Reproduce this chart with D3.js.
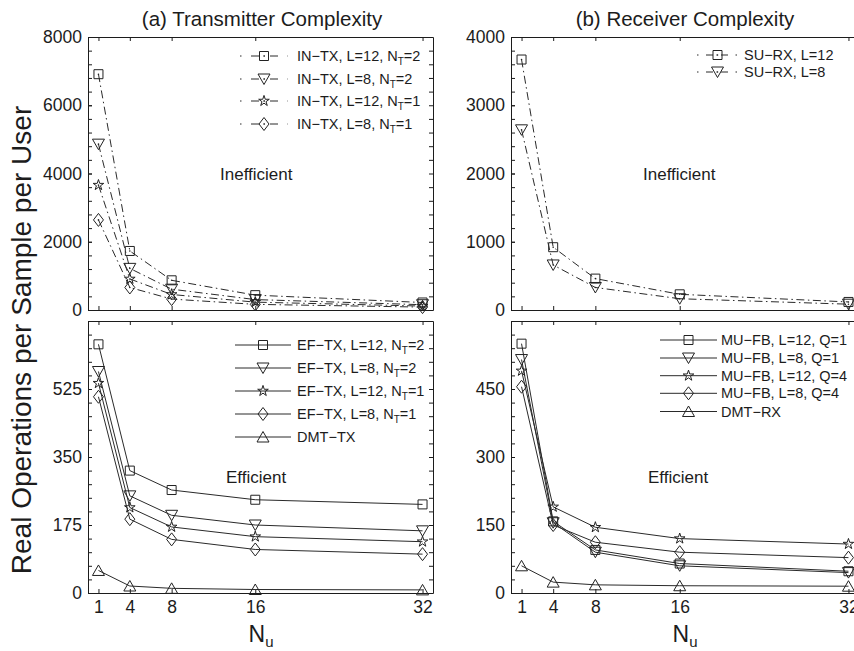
<!DOCTYPE html>
<html>
<head>
<meta charset="utf-8">
<script src="https://cdn.jsdelivr.net/npm/d3@7"></script>
<style>
  body { margin: 0; background: #fff; }
  svg { display: block; font-family: "Liberation Sans", Arial, Helvetica, sans-serif; }
</style>
</head>
<body>
<svg id="chart" width="854" height="651"></svg>
<script>
// x values shared by every panel
const nu = [1, 4, 8, 16, 32];

// (a) top: inefficient transmitters
const inTxNames = ["IN−TX, L=12, N_T=2", "IN−TX, L=8, N_T=2", "IN−TX, L=12, N_T=1", "IN−TX, L=8, N_T=1"];
const inTxL12N2 = [6910, 1730, 870, 435, 220];
const inTxL8N2 = [4860, 1220, 610, 305, 155];
const inTxL12N1 = [3660, 910, 455, 230, 115];
const inTxL8N1 = [2640, 660, 320, 165, 85];

// (b) top: single-user receivers
const suRxNames = ["SU−RX, L=12", "SU−RX, L=8"];
const suRxL12 = [3670, 920, 460, 230, 118];
const suRxL8 = [2640, 660, 330, 165, 85];

// (a) bottom: efficient transmitters
const efTxNames = ["EF−TX, L=12, N_T=2", "EF−TX, L=8, N_T=2", "EF−TX, L=12, N_T=1", "EF−TX, L=8, N_T=1", "DMT−TX"];
const efTxL12N2 = [640, 315, 265, 240, 228];
const efTxL8N2 = [570, 250, 200, 175, 160];
const efTxL12N1 = [540, 220, 170, 145, 132];
const efTxL8N1 = [505, 190, 138, 112, 100];
const dmtTx = [58, 18, 12, 9, 8];

// (b) bottom: multi-user feedback receivers
const muFbNames = ["MU−FB, L=12, Q=1", "MU−FB, L=8, Q=1", "MU−FB, L=12, Q=4", "MU−FB, L=8, Q=4", "DMT−RX"];
const muFbL12Q1 = [550, 158, 95, 65, 48];
const muFbL8Q1 = [515, 155, 90, 60, 45];
const muFbL12Q4 = [490, 190, 145, 120, 108];
const muFbL8Q4 = [455, 150, 112, 90, 78];
const dmtRx = [60, 24, 18, 16, 15];

const markers = ["square", "tridown", "star", "diamond", "triup"];

const svg = d3.select("#chart");
const ink = "#1c1c1c";

function markerPath(type) {
  switch (type) {
    case "square": return "M-4.5,-4.5H4.5V4.5H-4.5Z";
    case "tridown": return "M-6,-5L6,-5L0,5.5Z";
    case "triup": return "M-6,5L6,5L0,-5.5Z";
    case "diamond": return "M0,-6.5L5,0L0,6.5L-5,0Z";
    case "star": return d3.symbol(d3.symbolStar, 35)();
  }
}

// text with "_X" parts turned into subscripts
function richText(sel, str, subSize) {
  const parts = str.split(/_(\w)/);
  parts.forEach((p, i) => {
    if (!p) return;
    if (i % 2 === 1) {
      sel.append("tspan").attr("dy", 4).attr("font-size", subSize).text(p);
    } else {
      sel.append("tspan").attr("dy", i > 0 ? -4 : 0).text(p);
    }
  });
}

function drawPanel(p) {
  const g = svg.append("g");
  const x = d3.scaleLinear().domain([0, 33]).range(p.xRange);
  const y = d3.scaleLinear().domain(p.yDomain).range(p.yRange);
  const minor = d3.range(0, p.yDomain[1] + 1e-6, p.minorStep);

  const axes = g.append("g");
  axes.append("g").attr("transform", `translate(${p.xRange[0]},0)`)
    .call(d3.axisLeft(y).tickValues(minor).tickSize(-4).tickSizeOuter(0).tickFormat(""));
  axes.append("g").attr("transform", `translate(${p.xRange[0]},0)`)
    .call(d3.axisLeft(y).tickValues(p.yTicks).tickSize(-4).tickSizeOuter(0).tickPadding(6)
      .tickFormat(d3.format("d")))
    .selectAll("text").attr("font-size", "17.5px");
  axes.append("g").attr("transform", `translate(${p.xRange[1]},0)`)
    .call(d3.axisRight(y).tickValues(minor).tickSize(-4).tickSizeOuter(0).tickFormat(""));
  axes.append("g").attr("transform", `translate(0,${p.yRange[1]})`)
    .call(d3.axisTop(x).tickValues(nu).tickSize(-4).tickSizeOuter(0).tickFormat(""));
  axes.append("g").attr("transform", `translate(0,${p.yRange[0]})`)
    .call(d3.axisBottom(x).tickValues(nu).tickSize(-4).tickSizeOuter(0).tickPadding(8)
      .tickFormat(p.xLabels ? d3.format("d") : ""))
    .selectAll("text").attr("font-size", "17.5px");
  axes.selectAll(".domain, line").attr("stroke", ink);
  axes.selectAll("text").attr("fill", ink).attr("font-family", null);

  const line = d3.line().x(d => x(d[0])).y(d => y(d[1]));

  p.series.forEach((vals, i) => {
    const pts = nu.map((n, j) => [n, vals[j]]);
    g.append("path")
      .attr("d", line(pts))
      .attr("fill", "none")
      .attr("stroke", "#2a2a2a")
      .attr("stroke-width", 1)
      .attr("stroke-dasharray", p.dash);

    const m = g.append("g").selectAll("g").data(pts).join("g")
      .attr("transform", d => `translate(${x(d[0])},${y(d[1])})`);
    m.append("path")
      .attr("d", markerPath(markers[i]))
      .attr("fill", "none")
      .attr("stroke", "#222")
      .attr("stroke-width", 1);
    if (p.centerDot) {
      m.append("circle").attr("r", 0.8).attr("fill", "#222");
    }
  });

  // legend
  const lg = g.append("g");
  p.names.forEach((name, i) => {
    const ly = p.legend.rows[i];
    const [x0, x1] = p.legend.line;
    const xm = (x0 + x1) / 2;
    lg.append("line")
      .attr("x1", x0).attr("x2", x1).attr("y1", ly).attr("y2", ly)
      .attr("stroke", "#2a2a2a").attr("stroke-width", 1)
      .attr("stroke-dasharray", p.legendDash);
    lg.append("path")
      .attr("transform", `translate(${xm},${ly})`)
      .attr("d", markerPath(markers[i]))
      .attr("fill", "none").attr("stroke", "#222");
    if (p.centerDot) {
      lg.append("circle").attr("cx", xm).attr("cy", ly).attr("r", 0.8).attr("fill", "#222");
    }
    const t = lg.append("text")
      .attr("x", p.legend.textX).attr("y", ly + 5)
      .attr("font-size", "14.5px").attr("fill", ink);
    richText(t, name, "10px");
  });

  g.append("text")
    .attr("x", p.note[0]).attr("y", p.note[1])
    .attr("font-size", "17px").attr("fill", ink)
    .text(p.noteText);
}

const leftX = [88, 433];
const rightX = [511, 859];
const topY = [310, 37];
const botY = [593, 321];
const dashDot = "8,3.5,1.5,3.5";
const legendDashDot = "1.5,9.5,8,5,1,5,8,9.5,1.5";
const legendDashDotShort = "1.5,7.5,7,3.5,1,3.5,7,7.5,1.5";

drawPanel({
  xRange: leftX, yRange: topY, yDomain: [0, 8000], yTicks: [0, 2000, 4000, 6000, 8000], minorStep: 400,
  series: [inTxL12N2, inTxL8N2, inTxL12N1, inTxL8N1], names: inTxNames,
  dash: dashDot, legendDash: legendDashDot, centerDot: true, xLabels: false,
  legend: { line: [240, 288], textX: 297, rows: [56, 79, 101, 124] },
  note: [220, 180], noteText: "Inefficient"
});

drawPanel({
  xRange: rightX, yRange: topY, yDomain: [0, 4000], yTicks: [0, 1000, 2000, 3000, 4000], minorStep: 200,
  series: [suRxL12, suRxL8], names: suRxNames,
  dash: dashDot, legendDash: legendDashDotShort, centerDot: true, xLabels: false,
  legend: { line: [697, 738], textX: 744, rows: [55, 72] },
  note: [643, 180], noteText: "Inefficient"
});

drawPanel({
  xRange: leftX, yRange: botY, yDomain: [0, 700], yTicks: [0, 175, 350, 525], minorStep: 35,
  series: [efTxL12N2, efTxL8N2, efTxL12N1, efTxL8N1, dmtTx], names: efTxNames,
  dash: null, legendDash: null, centerDot: false, xLabels: true,
  legend: { line: [235, 291], textX: 297, rows: [345, 368, 391, 414, 437] },
  note: [226, 483], noteText: "Efficient"
});

drawPanel({
  xRange: rightX, yRange: botY, yDomain: [0, 600], yTicks: [0, 150, 300, 450], minorStep: 30,
  series: [muFbL12Q1, muFbL8Q1, muFbL12Q4, muFbL8Q4, dmtRx], names: muFbNames,
  dash: null, legendDash: null, centerDot: false, xLabels: true,
  legend: { line: [660, 717], textX: 721, rows: [340, 358, 375.7, 393.3, 411.5] },
  note: [648, 483], noteText: "Efficient"
});

// titles and axis labels
svg.append("text").attr("x", 262).attr("y", 26).attr("text-anchor", "middle")
  .attr("font-size", "20.5px").attr("fill", ink).text("(a) Transmitter Complexity");
svg.append("text").attr("x", 685).attr("y", 26).attr("text-anchor", "middle")
  .attr("font-size", "20.5px").attr("fill", ink).text("(b) Receiver Complexity");

svg.append("text")
  .attr("transform", "translate(31,340) rotate(-90)")
  .attr("text-anchor", "middle").attr("font-size", "28px").attr("fill", ink)
  .text("Real Operations per Sample per User");

[261, 685].forEach(cx => {
  const t = svg.append("text").attr("x", cx).attr("y", 642).attr("text-anchor", "middle")
    .attr("font-size", "23px").attr("fill", ink);
  t.append("tspan").text("N");
  t.append("tspan").attr("dy", 5).attr("font-size", "15px").text("u");
});
</script>
</body>
</html>
